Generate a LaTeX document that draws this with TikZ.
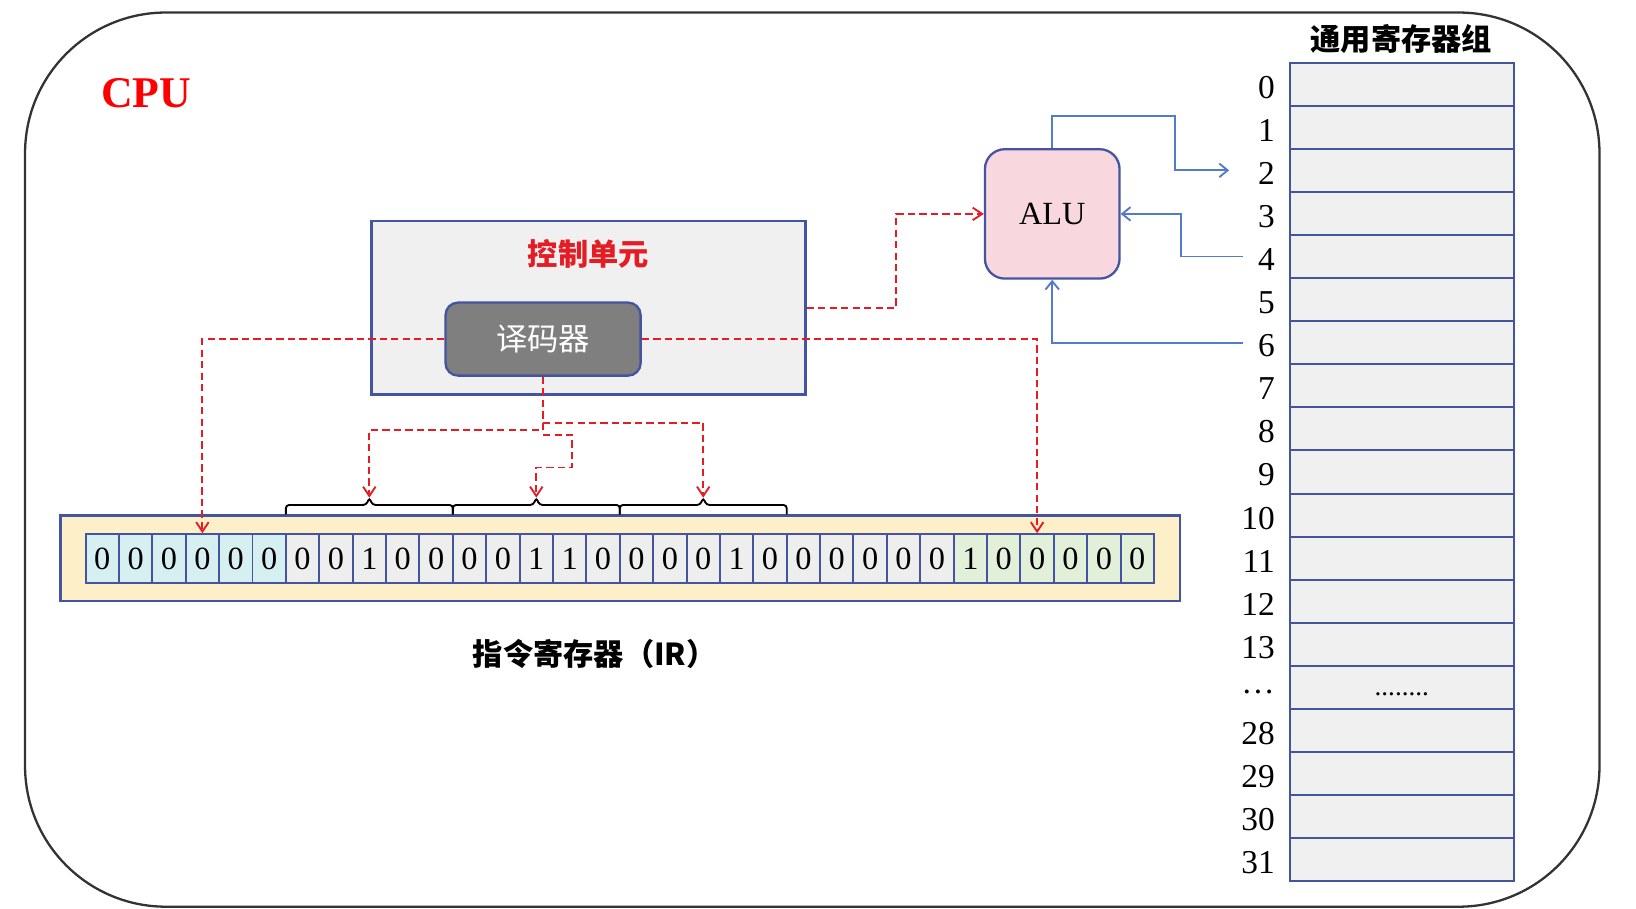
\documentclass[tikz,border=0pt]{standalone}
\usepackage{fontspec}
\setmainfont{Liberation Serif}
\newfontfamily\cjk{Noto Sans CJK SC}
\usetikzlibrary{arrows.meta}
\definecolor{boxblue}{RGB}{68,84,160}
\definecolor{lineblue}{RGB}{84,122,204}
\definecolor{sigred}{RGB}{228,28,36}
\definecolor{ctrlfill}{RGB}{240,240,240}
\definecolor{decfill}{RGB}{127,127,127}
\definecolor{alufill}{RGB}{248,216,222}
\definecolor{irfill}{RGB}{253,239,200}
\definecolor{opfill}{RGB}{214,240,242}
\definecolor{fdfill}{RGB}{238,238,238}
\definecolor{fnfill}{RGB}{226,240,218}
\tikzset{
	unitbox/.style={draw=boxblue, line width=2.2pt, inner sep=0pt},
	bitcell/.style={draw=boxblue, line width=1.9pt, minimum width=32pt,
		minimum height=47pt, inner sep=0pt, font=\fontsize{31}{31}\selectfont},
	regrow/.style={draw=boxblue, fill=ctrlfill, line width=1.9pt,
		minimum width=215pt, minimum height=41.3pt, inner sep=0pt},
	reglabel/.style={anchor=east, inner sep=0pt, font=\fontsize{32}{32}\selectfont},
	brk/.style={line width=1.8pt, rounded corners=3pt},
	sig/.style={draw=sigred, line width=1.8pt, dash pattern=on 7pt off 4pt,
		-{Straight Barb[length=9pt,width=12pt]}},
	data/.style={draw=lineblue, line width=1.8pt,
		-{Straight Barb[length=8pt,width=13pt]}},
	cnfont/.style={font=\cjk\bfseries\fontsize{29}{29}\selectfont}
}

\begin{document}
\begin{tikzpicture}[x=1pt,y=-1pt]
	\useasboundingbox (0,0) rectangle (1568,871);
	
	% outline
	\node[draw=black!80, line width=2.2pt, rounded corners=135pt, minimum width=1509pt,
		minimum height=857pt] (cpu) at (778.5,440.5) {};
	\node[text=red, font=\bfseries\fontsize{42}{42}\selectfont] (cpulabel) at (140,89) {CPU};
	
	% control unit and decoder
	\node[unitbox, fill=ctrlfill, minimum width=416pt, minimum height=166pt] (ctrl) at (564,295) {};
	\node[cnfont, text=sigred] (ctrllabel) at (564,243) {控制单元};
	\node[unitbox, fill=decfill, rounded corners=12pt, minimum width=187pt,
		minimum height=70pt, text=white, font=\cjk\fontsize{30}{30}\selectfont] (dec) at (520.5,325) {译码器};
	
	% ALU
	\node[unitbox, fill=alufill, rounded corners=19pt, minimum width=129pt,
		minimum height=124pt, font=\fontsize{31}{31}\selectfont] (alu) at (1008.5,205) {ALU};
	
	% instruction register
	\node[unitbox, fill=irfill, minimum width=1073pt, minimum height=82pt] (ir) at (594.5,535) {};
	\foreach \b [count=\i from 0] in {0,0,0,0,0,0,0,0,1,0,0,0,0,1,1,0,0,0,0,1,0,0,0,0,0,0,1,0,0,0,0,0} {
		\ifnum\i<6 \def\cc{opfill}\else\ifnum\i>25 \def\cc{fnfill}\else\def\cc{fdfill}\fi\fi
		\node[bitcell, fill=\cc] (b\i) at ({98+32*\i},535.5) {\b};
	}
	\node[cnfont] (irlabel) at (570,627) {指令寄存器（IR）};
	
	% field brackets
	\foreach \x [count=\k] in {274,434,594} {
		\draw[brk] (\x,493) -- (\x,484) -- (\x+77,484) -- (\x+80,477)
			-- (\x+83,484) -- (\x+160,484) -- (\x+160,493);
		\coordinate (tip\k) at (\x+80,477);
	}
	
	% register file
	\node[cnfont] (regtitle) at (1343,37) {通用寄存器组};
	\foreach \l [count=\i from 0] in {0,1,...,13,{\raisebox{-7pt}{\ldots}},28,29,30,31} {
		\node[regrow] (r\i) at (1343.5,{60+41.3*(\i+0.5)}) {};
		\node[reglabel] (l\i) at ([xshift=-13pt,yshift=-3pt]r\i.west) {\l};
	}
	\node[font=\fontsize{26}{26}\selectfont] (rdots) at ([yshift=-7pt]r14.center) {........};
	
	% control signals
	\draw[sig] (dec.west) -| (b3.north);
	\draw[sig] (dec.east) -| (b28.north);
	\draw[sig] (ctrl.east) -- ++(86,0) |- (alu.west);
	\draw[sig] (dec.south) -- ++(0,51) -| (tip1);
	\draw[sig] (dec.south) ++(0,44) -| (tip3);
	\draw[sig] (dec.south) ++(0,56) -- ++(28,0) -- ++(0,31) -| (tip2);
	
	% data paths
	\draw[data] (alu.north) -- ++(0,-31) -| ([xshift=-109pt]r2.west) -- ([xshift=-57pt]r2.west);
	\draw[data] ([xshift=-44pt]r4.west) -- ++(-59,0) |- (alu.east);
	\draw[data] ([xshift=-44pt]r6.west) -| (alu.south);
\end{tikzpicture}
\end{document}
